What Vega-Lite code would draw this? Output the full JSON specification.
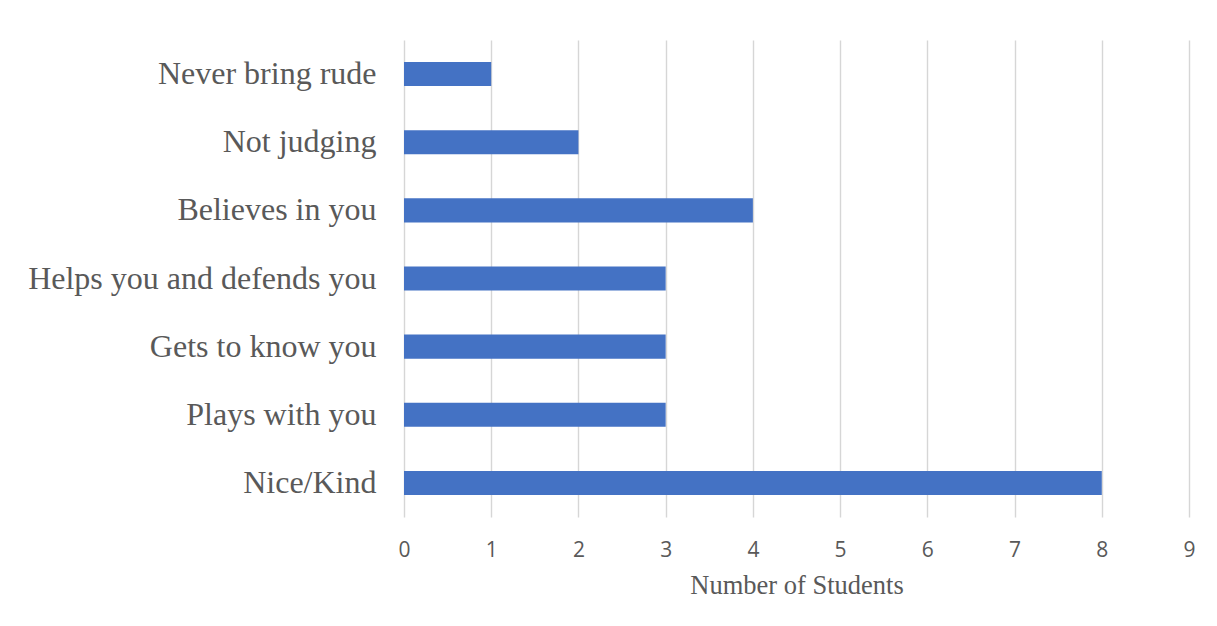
{
  "$schema": "https://vega.github.io/schema/vega-lite/v6.json",
  "autosize": {"type": "none"},
  "width": 785,
  "height": 477,
  "padding": {"left": 404, "top": 40, "right": 28, "bottom": 109},
  "background": "white",
  "data": {
    "values": [
      {"reason": "Never bring rude", "students": 1},
      {"reason": "Not judging", "students": 2},
      {"reason": "Believes in you", "students": 4},
      {"reason": "Helps you and defends you", "students": 3},
      {"reason": "Gets to know you", "students": 3},
      {"reason": "Plays with you", "students": 3},
      {"reason": "Nice/Kind", "students": 8}
    ]
  },
  "mark": {"type": "bar", "color": "#4472C4"},
  "encoding": {
    "y": {
      "field": "reason",
      "type": "nominal",
      "sort": null,
      "scale": {"paddingInner": 0.647, "paddingOuter": 0.3235},
      "axis": {
        "title": null,
        "domain": false,
        "ticks": false,
        "tickSize": 0,
        "grid": false,
        "labelFont": "Liberation Serif",
        "labelFontSize": 32,
        "labelColor": "#595959",
        "labelPadding": 28,
        "labelLimit": 0
      }
    },
    "x": {
      "field": "students",
      "type": "quantitative",
      "scale": {"domain": [0, 9], "nice": false},
      "axis": {
        "title": "Number of Students",
        "titleFont": "Liberation Serif",
        "titleFontSize": 26.5,
        "titleFontWeight": "normal",
        "titleColor": "#595959",
        "titleBaseline": "alphabetic",
        "titleY": 76,
        "values": [0, 1, 2, 3, 4, 5, 6, 7, 8, 9],
        "format": "d",
        "domain": false,
        "ticks": false,
        "tickSize": 0,
        "grid": true,
        "gridColor": "#d6d6d6",
        "gridWidth": 1.4,
        "labelFont": "Open Sans",
        "labelFontSize": 21,
        "labelColor": "#595959",
        "labelBaseline": "alphabetic",
        "labelPadding": 39,
        "labelFlush": false
      }
    }
  },
  "config": {"view": {"stroke": null}}
}
